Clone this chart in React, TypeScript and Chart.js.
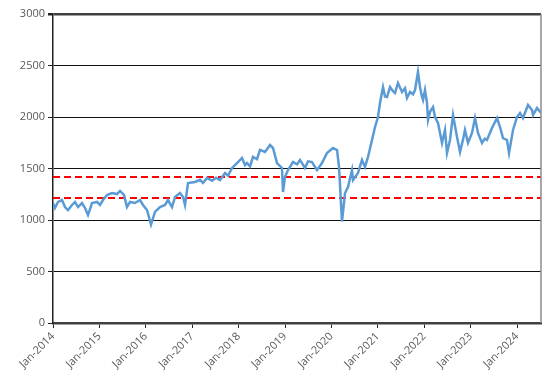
import React, { useEffect, useRef } from "react";
import { Chart, registerables } from "chart.js";

Chart.register(...registerables);

// time in years since Jan-2014
const t: number[] = [
  0.0, 0.043, 0.108, 0.194, 0.259, 0.323, 0.409, 0.474, 0.539, 0.625, 0.69, 0.754, 0.841, 0.948,
  1.013, 1.078, 1.164, 1.272, 1.379, 1.444, 1.53, 1.595, 1.659, 1.767, 1.875, 1.94,
  2.026, 2.112, 2.198, 2.306, 2.414, 2.478, 2.565, 2.629, 2.737, 2.802, 2.845, 2.909,
  3.06, 3.168, 3.233, 3.319, 3.427, 3.513, 3.599, 3.707, 3.772, 3.858, 3.966,
  4.073, 4.138, 4.181, 4.246, 4.31, 4.397, 4.461, 4.569, 4.677, 4.741, 4.828, 4.935, 4.957, 5.0,
  5.065, 5.172, 5.259, 5.323, 5.431, 5.496, 5.582, 5.69, 5.797, 5.905, 6.034, 6.121, 6.164, 6.228,
  6.293, 6.358, 6.444, 6.466, 6.573, 6.659, 6.724, 6.789, 6.875, 6.94, 7.004, 7.047, 7.112,
  7.155, 7.198, 7.263, 7.328, 7.371, 7.435, 7.522, 7.586, 7.629, 7.694, 7.759, 7.802, 7.866,
  7.909, 7.953, 7.974, 8.017, 8.06, 8.082, 8.125, 8.19, 8.233, 8.297, 8.384, 8.448, 8.491,
  8.556, 8.621, 8.707, 8.772, 8.836, 8.879, 8.944, 9.03, 9.095, 9.159, 9.246, 9.306, 9.353,
  9.461, 9.569, 9.634, 9.698, 9.784, 9.828, 9.914, 10.0, 10.065, 10.129, 10.237, 10.323,
  10.345, 10.431, 10.517,
];

const index: number[] = [
  1165, 1117, 1175, 1194, 1126, 1097, 1146, 1175, 1126, 1165, 1117, 1048, 1165, 1175,
  1146, 1194, 1243, 1262, 1252, 1282, 1243, 1126, 1175, 1165, 1194, 1146,
  1097, 955, 1078, 1126, 1146, 1194, 1126, 1223, 1262, 1223, 1146, 1359,
  1369, 1390, 1360, 1408, 1380, 1410, 1388, 1456, 1430, 1505, 1553,
  1602, 1534, 1553, 1520, 1612, 1590, 1680, 1660, 1728, 1699, 1553, 1505, 1272, 1420,
  1485, 1563, 1540, 1583, 1505, 1570, 1563, 1485, 1553, 1650, 1699, 1680, 1515, 985,
  1262, 1320, 1485, 1388, 1456, 1583, 1515, 1612, 1777, 1903, 2000, 2136, 2291,
  2200, 2194, 2291, 2250, 2233, 2330, 2243, 2280, 2184, 2243, 2220, 2262, 2437,
  2291, 2194, 2165, 2262, 2136, 1971, 2050, 2097, 2000, 1942, 1748, 1874, 1650,
  1777, 2019, 1806, 1660, 1780, 1874, 1748, 1845, 1990, 1845, 1748, 1790, 1777,
  1893, 1990, 1903, 1796, 1777, 1650, 1874, 2000, 2039, 1990, 2117, 2068,
  2019, 2087, 2039,
];

const startYear = 2014;
const endOffset = 10.517;
const thresholds: number[] = [1417, 1214];
const yTicks: number[] = [0, 500, 1000, 1500, 2000, 2500, 3000];

const borderPlugin = {
  id: "rightBorder",
  afterDraw(chart: any) {
    const { ctx, chartArea } = chart;
    ctx.save();
    ctx.strokeStyle = "#8c8c8c";
    ctx.lineWidth = 1.5;
    ctx.beginPath();
    ctx.moveTo(chartArea.right, chartArea.top);
    ctx.lineTo(chartArea.right, chartArea.bottom);
    ctx.stroke();
    ctx.restore();
  },
};

export default function App() {
  const ref = useRef<HTMLCanvasElement>(null);
  useEffect(() => {
    const canvas = ref.current!;
    const lineData = t.map((v, i) => ({ x: startYear + v, y: index[i] }));
    const thrSets = thresholds.map((v) => ({
      data: [
        { x: startYear, y: v },
        { x: startYear + endOffset, y: v },
      ],
      borderColor: "#ff0000",
      borderWidth: 2,
      borderDash: [7, 4],
      pointRadius: 0,
      fill: false,
    }));
    const font = { family: "'Open Sans', sans-serif", size: 11 };
    const chart = new Chart(canvas, {
      type: "line",
      data: {
        datasets: [
          {
            data: lineData,
            borderColor: "#5b9bd5",
            borderWidth: 2.5,
            pointRadius: 0,
            tension: 0,
            fill: false,
          },
          ...thrSets,
        ],
      },
      plugins: [borderPlugin],
      options: {
        animation: false,
        responsive: false,
        layout: { padding: { top: 14, right: 14, left: 0, bottom: 0 } },
        plugins: { legend: { display: false }, tooltip: { enabled: false } },
        scales: {
          x: {
            type: "linear",
            min: startYear,
            max: startYear + endOffset,
            afterBuildTicks: (scale: any) => {
              const ticks = [];
              for (let y = startYear; y <= startYear + endOffset; y++) ticks.push({ value: y });
              scale.ticks = ticks;
            },
            afterFit: (scale: any) => {
              scale.height = 60;
            },
            ticks: {
              autoSkip: false,
              maxRotation: 45,
              minRotation: 45,
              color: "#595959",
              font,
              padding: 2,
              callback: (v: any) => "Jan-" + v,
            },
            grid: {
              drawOnChartArea: false,
              drawTicks: true,
              tickLength: 5,
              tickColor: "#222",
            },
            border: { color: "#404040", width: 2.5 },
          },
          y: {
            min: 0,
            max: 3000,
            afterBuildTicks: (scale: any) => {
              scale.ticks = yTicks.map((v) => ({ value: v }));
            },
            afterFit: (scale: any) => {
              scale.width = 53;
            },
            ticks: { color: "#595959", font, padding: 3, callback: (v: any) => String(v) },
            grid: {
              color: (ctx: any) => (ctx.tick && ctx.tick.value === 3000 ? "#404040" : "#111"),
              lineWidth: (ctx: any) => (ctx.tick && ctx.tick.value === 3000 ? 2.5 : 1),
              tickLength: 5,
              tickColor: "#222",
            },
            border: { color: "#222", width: 1.5 },
          },
        },
      },
    } as any);
    return () => chart.destroy();
  }, []);
  return (
    <div style={{ position: "absolute", left: 0, top: 0, width: 555, height: 383 }}>
      <canvas ref={ref} width={555} height={383} />
    </div>
  );
}
